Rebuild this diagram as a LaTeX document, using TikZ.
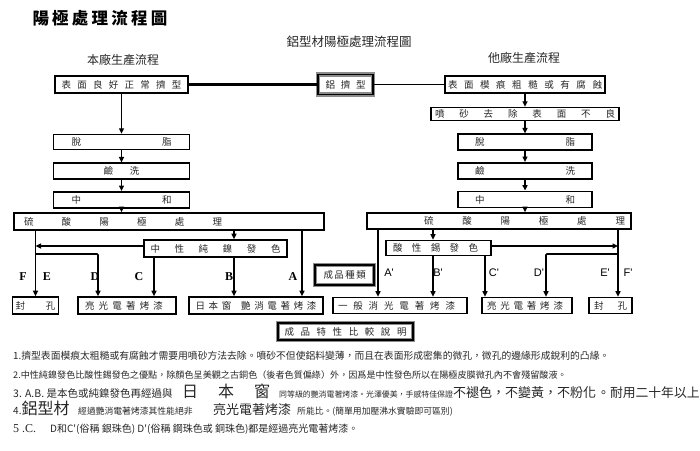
\documentclass[tikz,border=0pt]{standalone}
\usepackage{fontspec}
\setmainfont{Liberation Serif}
\newfontfamily\cjk{Noto Sans CJK TC}
\newfontfamily\arial{Liberation Sans}
\usetikzlibrary{arrows.meta,positioning,calc}
\definecolor{ink}{gray}{0.15}
\definecolor{frame}{gray}{0.55}
\newcommand\spreadtxt[2]{\makebox[#1pt][s]{#2}}
\newcommand\fs[1]{\fontsize{#1}{#1}\selectfont}

\begin{document}
\begin{tikzpicture}[x=1pt, y=-1pt,
		every node/.style={font=\cjk\fs{9.5}, text=ink},
		stepbox/.style={draw=black, line width=1.6pt, minimum height=16pt, inner sep=0pt},
		framed/.style={stepbox, line width=1.2pt, preaction={draw=frame, line width=4.5pt}},
		barrow/.style={-{Triangle[length=5.5pt,width=5pt]}, line width=1.6pt},
		bline/.style={line width=1.6pt},
		tag/.style={font=\bfseries\fs{12}, text=black},
		rtag/.style={font=\arial\fs{11}, text=black},
		note/.style={anchor=base west, inner sep=0pt, font=\cjk\fs{9.8}}
	]
		\useasboundingbox (0,0) rectangle (700,450);

		% headings
		\node[font=\cjk\bfseries\fs{16.5}, text=black] (title) at (100,18) {\spreadtxt{135}{陽 極 處 理 流 程 圖}};
		\node[font=\cjk\fs{12.5}] (sub) at (349,42) {鋁型材陽極處理流程圖};
		\node[font=\cjk\fs{12}] (own) at (123,60) {本廠生產流程};
		\node[font=\cjk\fs{12}] (other) at (524,58) {他廠生產流程};

		% top row
		\node[stepbox, minimum width=133pt, minimum height=17pt] (top) at (121.5,84.5) {\spreadtxt{120}{表 面 良 好 正 常 擠 型}};
		\node[framed, minimum width=55pt, minimum height=20pt] (alu) at (345.5,84.5) {\spreadtxt{40}{鋁 擠 型}};
		\node[stepbox, minimum width=160pt, minimum height=17pt] (rtop) at (525,84.5) {\spreadtxt{154}{表 面 模 痕 粗 糙 或 有 腐 蝕}};

		% left stack
		\node[stepbox, minimum width=136pt, minimum height=15pt, below=40pt of top] (ltuo) {\spreadtxt{100}{脫 脂}};
		\node[stepbox, minimum width=136pt, below=12pt of ltuo] (ljian) {\spreadtxt{36}{鹼 洗}};
		\node[stepbox, minimum width=136pt, below=11pt of ljian] (lzh) {\spreadtxt{100}{中 和}};
		\node[stepbox, minimum width=310pt, minimum height=17pt] (ano) at (169,221.5) {\spreadtxt{198}{硫 酸 陽 極 處 理}\hspace{92pt}\mbox{}};

		% right stack
		\node[stepbox, minimum width=188pt, minimum height=13pt, below=13pt of rtop] (rpen) {\spreadtxt{180}{噴 砂 去 除 表 面 不 良}};
		\node[stepbox, minimum width=134pt, below=12pt of rpen] (rtuo) {\spreadtxt{100}{脫 脂}};
		\node[stepbox, minimum width=134pt, below=11pt of rtuo] (rjian) {\spreadtxt{100}{鹼 洗}};
		\node[stepbox, minimum width=134pt, below=11pt of rjian] (rzh) {\spreadtxt{100}{中 和}};
		\node[stepbox, minimum width=264pt] (ano2) at (499,221) {\mbox{}\hspace{51pt}\spreadtxt{201}{硫 酸 陽 極 處 理}};

		% colouring
		\node[stepbox, minimum width=143pt, minimum height=17pt] (ni) at (215.5,248.5) {\spreadtxt{130}{中 性 純 鎳 發 色}};
		\node[stepbox, minimum width=105pt, minimum height=15pt] (sn) at (438.5,248) {\spreadtxt{85}{酸 性 錫 發 色}\hspace{6pt}\mbox{}};
		\node[framed, minimum width=59pt, minimum height=20pt] (kind) at (344.5,275) {\spreadtxt{42}{成 品 種 類}};

		% finished products
		\node[stepbox, minimum width=46pt, minimum height=17pt] (fk) at (35.5,305.5) {\spreadtxt{40}{封 孔}};
		\node[stepbox, minimum width=98pt, minimum height=17pt] (lg) at (127,305.5) {\spreadtxt{78}{亮 光 電 著 烤 漆}\hspace{6pt}\mbox{}};
		\node[stepbox, minimum width=134pt, minimum height=17pt] (nj) at (256,305.5) {\spreadtxt{121}{日 本 窗\hspace{6pt} 艷 消 電 著 烤 漆}};
		\node[stepbox, minimum width=134pt] (gen) at (400,305.5) {\spreadtxt{117}{一 般 消 光 電 著 烤 漆}\hspace{7pt}\mbox{}};
		\node[stepbox, minimum width=90pt] (lg2) at (527,305.5) {\spreadtxt{76}{亮 光 電 著 烤 漆}\hspace{4pt}\mbox{}};
		\node[stepbox, minimum width=43pt] (fk2) at (610.5,305.5) {\spreadtxt{33}{封 孔}};
		\node[framed, minimum width=135pt, minimum height=17pt] (cmp) at (345.5,331.5) {\spreadtxt{122}{成 品 特 性 比 較 說 明}};

		% main line
		\draw[bline, line width=2.4pt] (top.east) -- (top.east -| alu.west);
		\draw[bline] (alu.east) -- (alu.east -| rtop.west);
		\draw[barrow] (top) -- (ltuo);
		\draw[barrow] (ltuo) -- (ljian);
		\draw[barrow] (ljian) -- (lzh);
		\draw[barrow] (lzh.south) -- (lzh.south |- ano.north);
		\draw[barrow] (rtop) -- (rpen);
		\draw[barrow] (rpen) -- (rtuo);
		\draw[barrow] (rtuo) -- (rjian);
		\draw[barrow] (rjian) -- (rzh);
		\draw[barrow] (rzh.south) -- (rzh.south |- ano2.north);

		% left branches
		\coordinate (fL) at ([xshift=-133.5pt]ano.south);
		\coordinate (aL) at ([xshift=133pt]ano.south);
		\coordinate (niN) at ([xshift=65pt]ano.south);
		\coordinate (niW) at ([yshift=2.5pt]ni.west);
		\coordinate (deY) at ([yshift=-5.5pt]ni.west);
		\coordinate (cL) at ([xshift=-61.5pt]ni.south);
		\coordinate (bL) at ([xshift=18.5pt]ni.south);
		\draw[barrow] (niN) -- (niN |- ni.north);
		\draw[barrow] (fL) -- (fL |- fk.north);
		\draw[barrow] (aL) -- (aL |- nj.north);
		\draw[barrow] (niW) -- (niW -| fL);
		\draw[barrow, rounded corners=1pt] (deY -| fL) -| ([xshift=-29pt]lg.north);
		\draw[barrow] (cL) -- (cL |- lg.north);
		\draw[barrow] (bL) -- (bL |- nj.north);

		% right branches
		\coordinate (aR) at ([xshift=-121pt]ano2.south);
		\coordinate (fR) at ([xshift=119pt]ano2.south);
		\coordinate (snN) at ([xshift=-66pt]ano2.south);
		\coordinate (snE) at ([yshift=2pt]sn.east);
		\coordinate (snD) at ([yshift=-6pt]sn.east);
		\coordinate (bR) at ([xshift=-5.5pt]sn.south);
		\coordinate (cR) at ([xshift=46.5pt]sn.south);
		\draw[barrow] (snN) -- (snN |- sn.north);
		\draw[barrow] (aR) -- (aR |- gen.north);
		\draw[barrow] (fR) -- (fR |- fk2.north);
		\draw[barrow] (snE) -- (snE -| fR);
		\draw[barrow, rounded corners=1pt] (snD -| fR) -| ([xshift=19pt]lg2.north);
		\draw[barrow] (bR) -- (bR |- gen.north);
		\draw[barrow] (cR) -- (cR |- lg2.north);

		% branch letters
		\node[tag] (tF) at (23,277) {F};
		\node[tag] (tE) at (47,277) {E};
		\node[tag] (tD) at (95,277) {D};
		\node[tag] (tC) at (139,277) {C};
		\node[tag] (tB) at (229,277) {B};
		\node[tag] (tA) at (293,277) {A};
		\node[rtag] (rA) at (389,273) {A'};
		\node[rtag] (rB) at (438,273) {B'};
		\node[rtag] (rC) at (494,273) {C'};
		\node[rtag] (rD) at (539,273) {D'};
		\node[rtag] (rE) at (605,273) {E'};
		\node[rtag] (rF) at (628,273) {F'};

		% notes
		\node[note] (n1) at (13,359) {1.擠型表面模痕太粗糙或有腐蝕才需要用噴砂方法去除。噴砂不但使鋁料變薄，而且在表面形成密集的微孔，微孔的邊緣形成銳利的凸緣。};
		\node[note, font=\cjk\fs{9.1}] (n2) at (13,378) {2.中性純鎳發色比酸性錫發色之優點，除顏色呈美觀之古銅色（後者色質偏綠）外，因爲是中性發色所以在陽極皮膜微孔內不會殘留酸液。};
		\node[note, font=\cjk\fs{10.5}] (n3a) at (13,397) {3. A.B. 是本色或純鎳發色再經過與};
		\node[note, font=\cjk\fs{16}] (n3b) at (182,397) {\spreadtxt{88}{日 本 窗}};
		\node[note, font=\cjk\fs{7.9}] (n3c) at (279,397) {同等級的艷消電著烤漆。光澤優美，手感特佳保證};
		\node[note, font=\cjk\fs{13}] (n3d) at (453,397) {不褪色，不變黃，不粉化};
		\node[note, font=\cjk\fs{12.8}] (n3e) at (597,397) {。耐用二十年以上};
		\node[note, font=\cjk\fs{10}] (n4a) at (13,414) {4.{\fs{16}鋁型材}};
		\node[note, font=\cjk\fs{8.8}] (n4c) at (78,414) {經過艷消電著烤漆其性能絕非};
		\node[note, font=\cjk\fs{13}] (n4d) at (213,414) {亮光電著烤漆};
		\node[note, font=\cjk\fs{8.8}] (n4e) at (297,414) {所能比。(簡單用加壓沸水實驗即可區別)};
		\node[note, font=\rmfamily\fs{12}] (n5a) at (13,432) {5 .C.};
		\node[note, font=\cjk\fs{10}] (n5b) at (50,432) {D和C'(俗稱 銀珠色) D'(俗稱 鋼珠色或 銅珠色)都是經過亮光電著烤漆。};
	\end{tikzpicture}
\end{document}
